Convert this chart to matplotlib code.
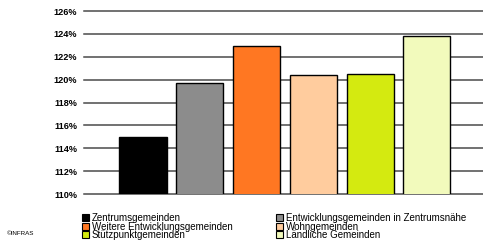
import numpy as np
import matplotlib
matplotlib.use('Agg')
import matplotlib.pyplot as plt
from matplotlib.patches import Patch

# Data
categories = ['Zentrumsgemeinden', 'Entwicklungsgemeinden in Zentrumsnähe',
              'Weitere Entwicklungsgemeinden', 'Wohngemeinden',
              'Stützpunktgemeinden', 'Ländliche Gemeinden']
values = [115.0, 119.7, 122.9, 120.4, 120.5, 123.8]
colors = ['#000000', '#8c8c8c', '#ff7722', '#ffcc9e', '#d4ea10', '#f2fabc']
yticks = [110, 112, 114, 116, 118, 120, 122, 124, 126]

plt.rcParams['font.family'] = ['Liberation Sans', 'DejaVu Sans']

fig = plt.figure(figsize=(4.83, 2.45), dpi=100)
ax = fig.add_axes([84 / 483, 1 - 194 / 245, (483 - 84) / 483, (194 - 11) / 245])

x = np.arange(len(categories))
ax.bar(x, values, width=0.83, bottom=0, color=colors, edgecolor='black',
       linewidth=1.0, zorder=3)

ax.set_ylim(110, 126)
ax.set_xlim(-1.04, 5.99)
ax.set_yticks(yticks)
ax.set_yticklabels([f'{t}%' for t in yticks], fontsize=6.6, fontweight='bold')
ax.tick_params(axis='y', length=0, pad=5)
ax.set_xticks([])
for t in yticks:
    ax.axhline(t, color='#4a4a4a', linewidth=1.1, zorder=1, clip_on=False)
for s in ax.spines.values():
    s.set_visible(False)

# legend, column-major ordering to match the reference rows
order = [0, 2, 4, 1, 3, 5]
handles = [Patch(facecolor=colors[i], edgecolor='black', linewidth=0.8) for i in order]
labels = [categories[i] for i in order]
fig.legend(handles, labels, ncol=2, loc='upper left',
           bbox_to_anchor=(82 / 483, 1 - 213 / 245), frameon=False,
           fontsize=7, handlelength=0.7, handleheight=0.7, handletextpad=0.3,
           labelspacing=-0.15, columnspacing=4.5, borderpad=0, borderaxespad=0)

fig.text(7 / 483, 1 - 233 / 245, '©INFRAS', fontsize=4.5, va='center', ha='left')

fig.savefig('out.png', dpi=100)
